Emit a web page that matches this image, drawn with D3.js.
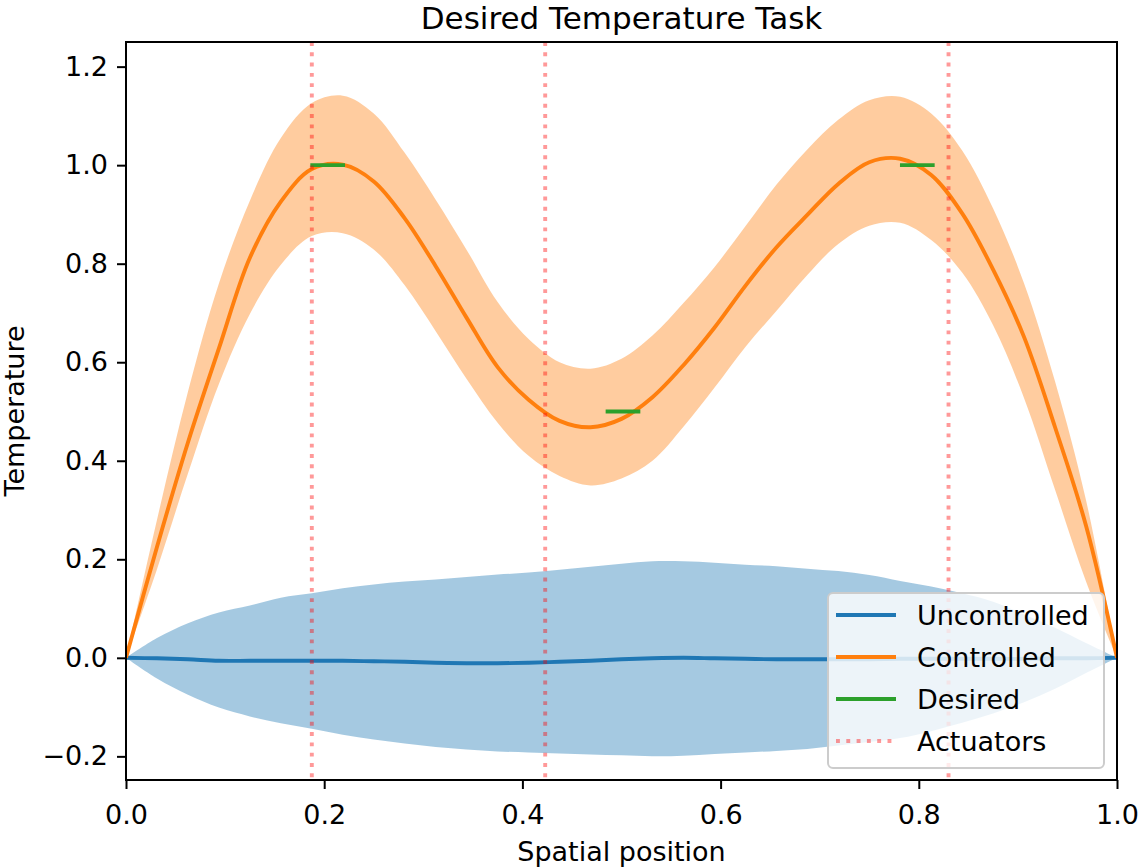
<!DOCTYPE html>
<html>
<head>
<meta charset="utf-8">
<script src="https://cdn.jsdelivr.net/npm/d3@7"></script>
<style>
  body { margin: 0; background: #fff; }
  svg { display: block; font-family: "DejaVu Sans", sans-serif; }
</style>
</head>
<body>
<svg id="chart" width="1139" height="868"></svg>
<script>
// spatial grid the curves were read at
const positions = [0, 0.03125, 0.0625, 0.09375, 0.125, 0.15625, 0.1875, 0.21875, 0.25, 0.28125,
  0.3125, 0.34375, 0.375, 0.40625, 0.4375, 0.46875, 0.5, 0.53125, 0.5625, 0.59375, 0.625,
  0.65625, 0.6875, 0.71875, 0.75, 0.78125, 0.8125, 0.84375, 0.875, 0.90625, 0.9375, 0.96875, 1];

const uncontrolledMean = [0, -0.001, -0.003, -0.006, -0.006, -0.006, -0.006, -0.006, -0.007, -0.008,
  -0.010, -0.011, -0.011, -0.010, -0.008, -0.006, -0.003, -0.001, 0.000, -0.001, -0.002,
  -0.003, -0.003, -0.003, -0.003, -0.002, -0.002, -0.002, -0.002, -0.002, -0.001, -0.001, 0];
const uncontrolledUpper = [0, 0.040, 0.070, 0.092, 0.106, 0.122, 0.131, 0.141, 0.149, 0.155,
  0.159, 0.164, 0.169, 0.173, 0.179, 0.185, 0.191, 0.196, 0.196, 0.193, 0.189,
  0.186, 0.181, 0.176, 0.168, 0.156, 0.145, 0.131, 0.114, 0.088, 0.061, 0.030, 0];
const uncontrolledLower = [0, -0.042, -0.075, -0.101, -0.119, -0.133, -0.144, -0.156, -0.166, -0.174,
  -0.181, -0.186, -0.190, -0.192, -0.194, -0.196, -0.198, -0.200, -0.199, -0.195, -0.192,
  -0.189, -0.185, -0.178, -0.171, -0.163, -0.149, -0.132, -0.113, -0.090, -0.063, -0.031, 0];

const controlledMean = [0, 0.225, 0.437, 0.628, 0.812, 0.926, 0.992, 1.001, 0.967, 0.892,
  0.795, 0.690, 0.590, 0.524, 0.481, 0.468, 0.485, 0.529, 0.594, 0.670, 0.755,
  0.833, 0.899, 0.962, 1.006, 1.013, 0.980, 0.902, 0.788, 0.651, 0.468, 0.268, 0];
const controlledUpper = [0, 0.280, 0.540, 0.760, 0.928, 1.055, 1.126, 1.141, 1.105, 1.025,
  0.930, 0.828, 0.722, 0.647, 0.600, 0.587, 0.607, 0.654, 0.720, 0.793, 0.876,
  0.960, 1.032, 1.092, 1.132, 1.139, 1.105, 1.030, 0.912, 0.760, 0.561, 0.320, 0];
const controlledLower = [0, 0.180, 0.374, 0.556, 0.698, 0.798, 0.856, 0.862, 0.829, 0.756,
  0.663, 0.566, 0.477, 0.410, 0.369, 0.350, 0.364, 0.400, 0.469, 0.548, 0.631,
  0.704, 0.777, 0.840, 0.877, 0.883, 0.848, 0.782, 0.675, 0.527, 0.341, 0.155, 0];

// desired temperature segments and actuator positions
const desiredStart = [0.186, 0.484, 0.781];
const desiredEnd = [0.221, 0.519, 0.816];
const desiredValue = [1.0, 0.5, 1.0];
const actuators = [0.1875, 0.423, 0.830];

const xTicks = [0, 0.2, 0.4, 0.6, 0.8, 1.0];
const yTicks = [-0.2, 0, 0.2, 0.4, 0.6, 0.8, 1.0, 1.2];
const legendLabels = ["Uncontrolled", "Controlled", "Desired", "Actuators"];

const svg = d3.select("#chart");
const margin = { top: 42, right: 22, bottom: 88, left: 126 };
const width = 1139, height = 868;
const innerW = width - margin.left - margin.right;
const innerH = height - margin.top - margin.bottom;

const x = d3.scaleLinear().domain([0, 1]).range([0, innerW]);
const y = d3.scaleLinear().domain([-0.248, 1.25]).range([innerH, 0]);

const g = svg.append("g")
  .attr("transform", `translate(${margin.left},${margin.top})`);

g.append("clipPath").attr("id", "clip")
  .append("rect").attr("width", innerW).attr("height", innerH);

const plot = g.append("g").attr("clip-path", "url(#clip)");

const uncData = positions.map((p, i) => ({ x: p, m: uncontrolledMean[i], lo: uncontrolledLower[i], hi: uncontrolledUpper[i] }));
const conData = positions.map((p, i) => ({ x: p, m: controlledMean[i], lo: controlledLower[i], hi: controlledUpper[i] }));

const band = d3.area()
  .x(d => x(d.x))
  .y0(d => y(d.lo))
  .y1(d => y(d.hi))
  .curve(d3.curveCatmullRom.alpha(0.5));
const meanLine = d3.line()
  .x(d => x(d.x))
  .y(d => y(d.m))
  .curve(d3.curveCatmullRom.alpha(0.5));

// bands
plot.append("path").datum(uncData)
  .attr("d", band)
  .attr("fill", "#1f77b4").attr("fill-opacity", 0.4);
plot.append("path").datum(conData)
  .attr("d", band)
  .attr("fill", "#ff7f0e").attr("fill-opacity", 0.4);

// means
plot.append("path").datum(uncData)
  .attr("d", meanLine)
  .attr("fill", "none").attr("stroke", "#1f77b4").attr("stroke-width", 3.9);
plot.append("path").datum(conData)
  .attr("d", meanLine)
  .attr("fill", "none").attr("stroke", "#ff7f0e").attr("stroke-width", 3.9);

// desired
plot.selectAll(".desired")
  .data(desiredValue)
  .enter().append("line")
    .attr("class", "desired")
    .attr("x1", (d, i) => x(desiredStart[i]))
    .attr("x2", (d, i) => x(desiredEnd[i]))
    .attr("y1", d => y(d))
    .attr("y2", d => y(d))
    .attr("stroke", "#2ca02c").attr("stroke-width", 3.9);

// actuators
plot.selectAll(".actuator")
  .data(actuators)
  .enter().append("line")
    .attr("class", "actuator")
    .attr("x1", d => x(d)).attr("x2", d => x(d))
    .attr("y1", 0).attr("y2", innerH)
    .attr("stroke", "red").attr("stroke-opacity", 0.4)
    .attr("stroke-width", 3.9)
    .attr("stroke-dasharray", "3.9 6.4");

// axes
const xAxis = g.append("g")
  .attr("transform", `translate(0,${innerH})`)
  .call(d3.axisBottom(x).tickValues(xTicks).tickFormat(d3.format(".1f")).tickSize(9).tickPadding(9));
const yAxis = g.append("g")
  .call(d3.axisLeft(y).tickValues(yTicks).tickFormat(d => d3.format(".1f")(d).replace("-", "\u2212")).tickSize(9).tickPadding(9));

[xAxis, yAxis].forEach(ax => {
  ax.select(".domain").remove();
  ax.selectAll(".tick line").attr("stroke", "#000").attr("stroke-width", 2);
  ax.selectAll(".tick text")
    .attr("fill", "#000")
    .style("font-size", "27px")
    .style("font-family", "DejaVu Sans");
});
xAxis.selectAll(".tick text").attr("dy", "0.95em");

// frame
g.append("rect")
  .attr("width", innerW).attr("height", innerH)
  .attr("fill", "none").attr("stroke", "#000").attr("stroke-width", 2);

// labels
svg.append("text")
  .attr("x", margin.left + innerW / 2).attr("y", 29)
  .attr("text-anchor", "middle")
  .style("font-size", "31px")
  .text("Desired Temperature Task");
svg.append("text")
  .attr("x", margin.left + innerW / 2).attr("y", 861)
  .attr("text-anchor", "middle")
  .style("font-size", "27px")
  .text("Spatial position");
svg.append("text")
  .attr("transform", `translate(24,${margin.top + innerH / 2}) rotate(-90)`)
  .attr("text-anchor", "middle")
  .style("font-size", "27px")
  .text("Temperature");

// legend
const legend = svg.append("g").attr("transform", "translate(828,593)");
legend.append("rect")
  .attr("width", 276).attr("height", 175).attr("rx", 5)
  .attr("fill", "#fff").attr("fill-opacity", 0.8)
  .attr("stroke", "#ccc").attr("stroke-width", 2);

const legendColors = ["#1f77b4", "#ff7f0e", "#2ca02c", "red"];
const rows = legend.selectAll(".row")
  .data(legendLabels)
  .enter().append("g")
    .attr("class", "row")
    .attr("transform", (d, i) => `translate(0,${22 + i * 42})`);
rows.append("line")
  .attr("x1", 8).attr("x2", 68)
  .attr("stroke", (d, i) => legendColors[i])
  .attr("stroke-opacity", (d, i) => i === 3 ? 0.4 : 1)
  .attr("stroke-width", 3.9)
  .attr("stroke-dasharray", (d, i) => i === 3 ? "3.9 6.4" : null);
rows.append("text")
  .attr("x", 89).attr("y", 10)
  .style("font-size", "27px")
  .text(d => d);
</script>
</body>
</html>
